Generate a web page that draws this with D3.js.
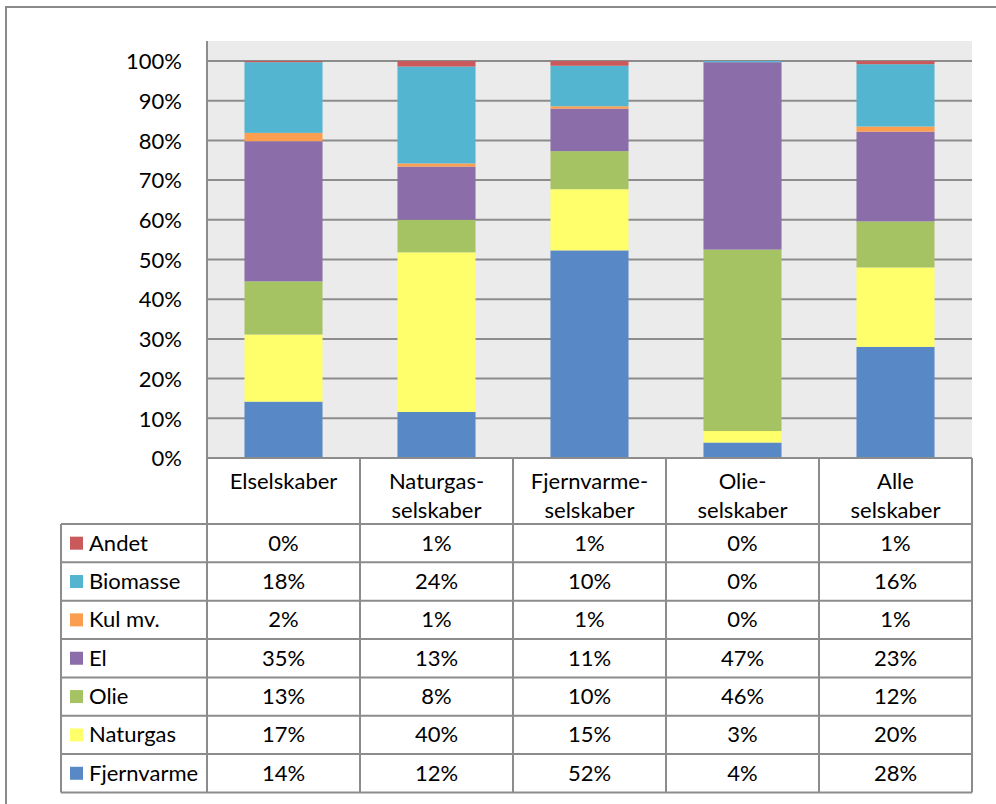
<!DOCTYPE html>
<html>
<head>
<meta charset="utf-8">
<script src="https://cdn.jsdelivr.net/npm/d3@7"></script>
<style>
  html, body { margin: 0; padding: 0; background: #fff; }
  svg { display: block; }
  text { font-family: Lato, "Liberation Sans", sans-serif; fill: #000; }
</style>
</head>
<body>
<svg id="chart" width="996" height="804"></svg>
<script>
// ---- data ----
const categories = ["Elselskaber", "Naturgas-\nselskaber", "Fjernvarme-\nselskaber", "Olie-\nselskaber", "Alle\nselskaber"];
const seriesNames = ["Fjernvarme", "Naturgas", "Olie", "El", "Kul mv.", "Biomasse", "Andet"]; // bottom to top
const fjernvarme = [14.2, 11.6, 52.3, 3.9, 28.0];
const naturgas   = [16.9, 40.2, 15.4, 2.9, 20.0];
const olie       = [13.4, 8.2, 9.6, 45.7, 11.6];
const el         = [35.3, 13.4, 10.7, 47.2, 22.6];
const kul        = [2.1, 0.8, 0.6, 0.0, 1.3];
const biomasse   = [17.8, 24.4, 10.2, 0.3, 15.7];
const andet      = [0.3, 1.4, 1.2, 0.0, 0.8];
const yTicks = [0, 10, 20, 30, 40, 50, 60, 70, 80, 90, 100];
const colors = ["#5889c6", "#ffff6b", "#a6c364", "#8a6da9", "#fb9e4f", "#53b5d0", "#c9595a"];

const seriesValues = [fjernvarme, naturgas, olie, el, kul, biomasse, andet];
const rows = categories.map((c, i) => {
  const r = { cat: c };
  seriesNames.forEach((s, j) => r[s] = seriesValues[j][i]);
  return r;
});

// ---- layout ----
const svg = d3.select("#chart");
const plotL = 207, plotR = 972, plotT = 41, y0 = 458, y100 = 61;
const tableL = 61, headerB = 524, rowH = 38.35;
const lineCol = "#8c8c8c";
const fontSize = 22;

// outer frame
svg.append("path").attr("d", "M6,804 V7 H996").attr("fill", "none")
  .attr("stroke", "#8a8a8a").attr("stroke-width", 2);

const x = d3.scaleBand().domain(categories).range([plotL, plotR]).paddingInner(0.49).paddingOuter(0.245);
const xCol = d3.scaleBand().domain(categories).range([plotL, plotR]).padding(0);
const y = d3.scaleLinear().domain([0, 100]).range([y0, y100]);

// plot background
svg.append("rect").attr("x", plotL).attr("y", plotT).attr("width", plotR - plotL).attr("height", y0 - plotT)
  .attr("fill", "#ebebeb");

// gridlines
svg.append("g").selectAll("line").data(yTicks).join("line")
  .attr("x1", plotL).attr("x2", plotR)
  .attr("y1", d => y(d)).attr("y2", d => y(d))
  .attr("stroke", lineCol).attr("stroke-width", 2);

// bars
const stack = d3.stack().keys(seriesNames)(rows);
svg.append("g").selectAll("g").data(stack).join("g")
  .attr("fill", (d, i) => colors[i])
  .selectAll("rect").data(d => d).join("rect")
  .attr("x", d => x(d.data.cat))
  .attr("width", x.bandwidth())
  .attr("y", d => y(d[1]))
  .attr("height", d => Math.max(0, y(d[0]) - y(d[1])));

// y axis
const yAxis = svg.append("g").attr("transform", `translate(${plotL},0)`)
  .call(d3.axisLeft(y).tickValues(yTicks).tickFormat(d => d + "%").tickSize(0).tickPadding(25));
yAxis.select(".domain").remove();
yAxis.selectAll("text").attr("font-size", fontSize).attr("dy", "0.35em")
  .style("font-family", "Lato, 'Liberation Sans', sans-serif").attr("fill", "#000");

// y axis line (continues into table)
const tableB = headerB + rowH * 7;
svg.append("line").attr("x1", plotL).attr("x2", plotL).attr("y1", plotT).attr("y2", tableB)
  .attr("stroke", lineCol).attr("stroke-width", 2);

// ---- table ----
const tg = svg.append("g");
// column separators (header + body)
categories.forEach(c => {
  const xr = xCol(c) + xCol.bandwidth();
  tg.append("line").attr("x1", xr).attr("x2", xr).attr("y1", y0).attr("y2", tableB)
    .attr("stroke", lineCol).attr("stroke-width", 2);
});
// horizontal lines
for (let i = 0; i <= 7; i++) {
  const yy = headerB + i * rowH;
  tg.append("line").attr("x1", tableL).attr("x2", plotR).attr("y1", yy).attr("y2", yy)
    .attr("stroke", lineCol).attr("stroke-width", 2);
}
tg.append("line").attr("x1", plotL).attr("x2", plotR).attr("y1", y0).attr("y2", y0)
  .attr("stroke", lineCol).attr("stroke-width", 2);
tg.append("line").attr("x1", tableL).attr("x2", tableL).attr("y1", headerB).attr("y2", tableB)
  .attr("stroke", lineCol).attr("stroke-width", 2);

// header labels
categories.forEach(c => {
  const t = tg.append("text").attr("text-anchor", "middle").attr("font-size", fontSize)
    .attr("x", xCol(c) + xCol.bandwidth() / 2);
  c.split("\n").forEach((ln, k) => {
    t.append("tspan").attr("x", xCol(c) + xCol.bandwidth() / 2).attr("y", 489 + k * 29).text(ln);
  });
});

// body rows (top to bottom: reverse stack order)
const tableSeries = seriesNames.map((s, i) => ({ name: s, color: colors[i], vals: seriesValues[i] })).reverse();
tableSeries.forEach((s, r) => {
  const cy = headerB + r * rowH + rowH / 2;
  tg.append("rect").attr("x", 70).attr("y", cy - 6.5).attr("width", 13).attr("height", 13).attr("fill", s.color);
  tg.append("text").attr("x", 89).attr("y", cy + 7.5).attr("font-size", fontSize).text(s.name);
  categories.forEach((c, i) => {
    tg.append("text").attr("text-anchor", "middle").attr("font-size", fontSize)
      .attr("x", xCol(c) + xCol.bandwidth() / 2).attr("y", cy + 7.5)
      .text(Math.round(s.vals[i]) + "%");
  });
});
</script>
</body>
</html>
